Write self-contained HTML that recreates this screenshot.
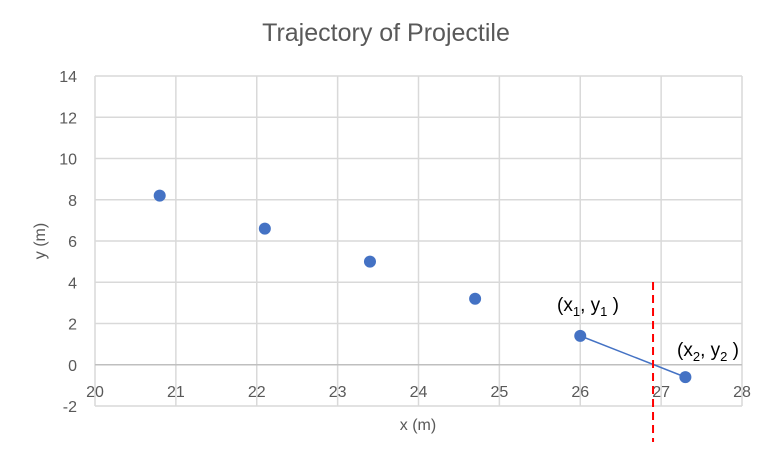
<!DOCTYPE html>
<html><head><meta charset="utf-8"><style>
body{margin:0;background:#fff;}
svg{display:block;font-family:"Liberation Sans",Calibri,sans-serif;}
</style></head><body>
<svg id="chart" width="771" height="459">
<rect width="771" height="459" fill="#fff"/>
<text x="386" y="41" text-anchor="middle" font-size="25" fill="#595959">Trajectory of Projectile</text>
<g id="grid"></g><g id="marks"></g>
<text x="418" y="430" text-anchor="middle" font-size="16" fill="#595959">x (m)</text>
<text transform="translate(45,241) rotate(-90)" text-anchor="middle" font-size="16" fill="#595959">y (m)</text>
<text x="557" y="311" font-size="19" fill="#000">(x<tspan font-size="13" dy="5">1</tspan><tspan dy="-5">, y</tspan><tspan font-size="13" dy="5">1</tspan><tspan dy="-5"> )</tspan></text>
<text x="677" y="356" font-size="19" fill="#000">(x<tspan font-size="13" dy="5">2</tspan><tspan dy="-5">, y</tspan><tspan font-size="13" dy="5">2</tspan><tspan dy="-5"> )</tspan></text>
</svg>
<script>
const xVals=[20.8,22.1,23.4,24.7,26.0,27.3];
const yVals=[8.2,6.6,5.0,3.2,1.4,-0.6];
const xTicks=[20,21,22,23,24,25,26,27,28];
const yTicks=[-2,0,2,4,6,8,10,12,14];
const cutoffX=26.9;
const NS="http://www.w3.org/2000/svg";
const L=95,R=742,T=76,B=406;
const sx=v=>L+(v-20)/8*(R-L);
const sy=v=>B-(v+2)/16*(B-T);
const grid=document.getElementById('grid'),marks=document.getElementById('marks');
function mk(tag,a,p){const e=document.createElementNS(NS,tag);for(const k in a)e.setAttribute(k,a[k]);p.appendChild(e);return e;}
xTicks.forEach(t=>{
 const l=mk('line',{x1:sx(t),x2:sx(t),y1:T,y2:B,stroke:'#d9d9d9','stroke-width':1.5},grid);
 
 
 const tx=mk('text',{x:sx(t),y:sy(0)+32,'text-anchor':'middle','font-size':16,fill:'#595959'},grid);
 tx.textContent=t;
 
 
});
yTicks.forEach(t=>{
 const l=mk('line',{x1:L,x2:R,y1:sy(t),y2:sy(t),stroke:t===0?'#bfbfbf':'#d9d9d9','stroke-width':1.5},grid);
 
 
 const tx=mk('text',{x:L-18,y:sy(t)+6,'text-anchor':'end','font-size':16,fill:'#595959'},grid);
 tx.textContent=t;
 
 
});
const n=xVals.length;
const seg=mk('line',{x1:sx(xVals[n-2]),y1:sy(yVals[n-2]),x2:sx(xVals[n-1]),y2:sy(yVals[n-1]),stroke:'#4472c4','stroke-width':1.5},marks);


const cut=mk('line',{x1:sx(cutoffX),x2:sx(cutoffX),y1:282,y2:442,stroke:'#ff0000','stroke-width':2,'stroke-dasharray':'8,5'},marks);


xVals.forEach((x,i)=>{
 const c=mk('circle',{cx:sx(x),cy:sy(yVals[i]),r:6,fill:'#4472c4'},marks);
 
 
});
</script>
</body></html>
